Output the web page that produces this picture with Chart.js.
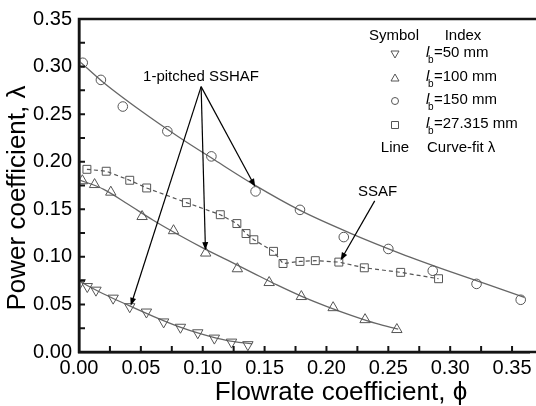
<!DOCTYPE html>
<html>
<head>
<meta charset="utf-8">
<script src="https://cdn.jsdelivr.net/npm/chart.js@4.4.1/dist/chart.umd.min.js"></script>
<style>
  html, body { margin: 0; padding: 0; background: #fff; }
</style>
</head>
<body>
<canvas id="myChart" width="536" height="406"></canvas>
<script>
// measured points (l_b = 50, 100, 150, 27.315 mm)
const phi50 = [0.001, 0.0067, 0.0137, 0.0276, 0.041, 0.0545, 0.0684, 0.082, 0.096, 0.1094, 0.1233, 0.1365];
const lam50 = [0.073, 0.0688, 0.065, 0.0566, 0.0476, 0.042, 0.0316, 0.026, 0.0202, 0.0146, 0.0104, 0.0077];
const phi100 = [0.0027, 0.0126, 0.0257, 0.051, 0.0764, 0.1024, 0.128, 0.1537, 0.1797, 0.2054, 0.2312, 0.2569];
const lam100 = [0.18, 0.176, 0.168, 0.1424, 0.1275, 0.104, 0.0875, 0.073, 0.0583, 0.0466, 0.034, 0.0236];
const phi150 = [0.003, 0.0177, 0.0354, 0.0714, 0.107, 0.1427, 0.1786, 0.214, 0.25, 0.2859, 0.3213, 0.357];
const lam150 = [0.304, 0.286, 0.258, 0.232, 0.2056, 0.1688, 0.1494, 0.1208, 0.1083, 0.0854, 0.0716, 0.0549];
const phiSsaf = [0.0064, 0.022, 0.041, 0.0547, 0.0868, 0.1142, 0.1276, 0.135, 0.1413, 0.1572, 0.1649, 0.1786, 0.191, 0.21, 0.2306, 0.26, 0.2906];
const lamSsaf = [0.192, 0.19, 0.1805, 0.1724, 0.157, 0.1443, 0.135, 0.1245, 0.118, 0.1058, 0.093, 0.0952, 0.096, 0.0945, 0.0885, 0.0837, 0.077];

// curve-fit lines
const fitPhi50 = [0, 0.02, 0.04, 0.06, 0.08, 0.10, 0.12, 0.14];
const fitLam50 = [0.0745, 0.061, 0.049, 0.0375, 0.027, 0.0185, 0.012, 0.0085];
const fitPhi100 = [0, 0.02, 0.04, 0.06, 0.08, 0.10, 0.12, 0.14, 0.16, 0.18, 0.20, 0.22, 0.24, 0.258];
const fitLam100 = [0.181, 0.171, 0.155, 0.1385, 0.1235, 0.1095, 0.0965, 0.0835, 0.0705, 0.0585, 0.048, 0.0385, 0.030, 0.024];
const fitPhi150 = [0, 0.02, 0.05, 0.08, 0.11, 0.14, 0.18, 0.22, 0.26, 0.30, 0.33, 0.36];
const fitLam150 = [0.306, 0.283, 0.2535, 0.2265, 0.2015, 0.177, 0.148, 0.1245, 0.1035, 0.0845, 0.071, 0.0575];

const xTicks = [0, 0.05, 0.10, 0.15, 0.20, 0.25, 0.30, 0.35];
const yTicks = [0, 0.05, 0.10, 0.15, 0.20, 0.25, 0.30, 0.35];

const legendIndex = ['=50 mm', '=100 mm', '=150 mm', '=27.315 mm'];
const legendShapes = ['down', 'up', 'circle', 'square'];

const FONT = '"Liberation Sans", Arial, sans-serif';
const GREY = '#555';
const AXIS = '#141414';

function pts(xs, ys) {
    return xs.map((v, i) => ({x: v, y: ys[i]}));
}

function markers(xs, ys, style, r, rot) {
    return {
        data: pts(xs, ys),
        showLine: false,
        pointStyle: style,
        pointRadius: r,
        rotation: rot || 0,
        borderColor: GREY,
        backgroundColor: 'rgba(0,0,0,0)',
        pointBorderWidth: 1,
    };
}

function fitLine(xs, ys) {
    return {
        data: pts(xs, ys),
        showLine: true,
        pointRadius: 0,
        borderColor: '#666',
        borderWidth: 1.3,
        cubicInterpolationMode: 'monotone',
    };
}

// axes frame + inward ticks
function drawFrame(chart) {
    const c = chart.ctx;
    const sx = chart.scales.x, sy = chart.scales.y;
    const L = sx.getPixelForValue(0), B = sy.getPixelForValue(0), T = sy.getPixelForValue(0.35);
    c.save();
    c.setTransform(1, 0, 0, 1, 0, 0);
    c.globalAlpha = 1;
    c.globalCompositeOperation = 'source-over';
    c.setLineDash([]);
    c.strokeStyle = AXIS;
    c.lineWidth = 2.5;
    c.beginPath();
    c.moveTo(540, T);
    c.lineTo(L, T);
    c.lineTo(L, B);
    c.lineTo(540, B);
    c.stroke();
    c.lineWidth = 2;
    c.beginPath();
    for (let k = 1; k <= 14; k++) {
        const v = k * 0.025;
        c.moveTo(sx.getPixelForValue(v), B);
        c.lineTo(sx.getPixelForValue(v), B - 6);
        c.moveTo(L, sy.getPixelForValue(v));
        c.lineTo(L + 6, sy.getPixelForValue(v));
    }
    c.stroke();
    c.restore();
}

const overlay = {
    id: 'overlay',
    afterDraw(chart) {
        const c = chart.ctx;
        const sx = chart.scales.x, sy = chart.scales.y;
        const px = v => sx.getPixelForValue(v);
        const py = v => sy.getPixelForValue(v);
        c.save();
        c.fillStyle = '#000';

        // axis titles
        c.font = '26px ' + FONT;
        c.textAlign = 'center';
        c.textBaseline = 'alphabetic';
        c.fillText('Flowrate coefficient, \u03D5', 341, 400);
        c.save();
        c.translate(25, 198);
        c.rotate(-Math.PI / 2);
        c.fillText('Power coefficient, \u03BB', 0, 0);
        c.restore();

        // legend block
        c.font = '15px ' + FONT;
        c.textBaseline = 'middle';
        c.fillText('Symbol', 394, 36);
        c.fillText('Index', 463, 36);
        const rowY = [54, 78, 101, 125];
        legendShapes.forEach((s, i) => {
            const yy = rowY[i];
            c.strokeStyle = GREY;
            c.lineWidth = 1;
            c.beginPath();
            if (s === 'down') {
                c.moveTo(391, yy - 3); c.lineTo(399, yy - 3); c.lineTo(395, yy + 4); c.closePath();
            } else if (s === 'up') {
                c.moveTo(391, yy + 3); c.lineTo(399, yy + 3); c.lineTo(395, yy - 4); c.closePath();
            } else if (s === 'circle') {
                c.arc(395, yy, 3.5, 0, Math.PI * 2);
            } else {
                c.rect(391.5, yy - 3.5, 7, 7);
            }
            c.stroke();
            c.textAlign = 'left';
            c.font = 'italic 15px ' + FONT;
            c.fillText('l', 426, yy - 1);
            c.font = '10px ' + FONT;
            c.fillText('b', 428, yy + 6);
            c.font = '15px ' + FONT;
            c.fillText(legendIndex[i], 434, yy - 1);
        });
        c.textAlign = 'center';
        c.fillText('Line', 395, 148);
        c.textAlign = 'left';
        c.fillText('Curve-fit \u03BB', 427, 148);

        // annotations with arrows
        function arrow(x1, y1, x2, y2) {
            const X1 = px(x1), Y1 = py(y1), X2 = px(x2), Y2 = py(y2);
            const ang = Math.atan2(Y2 - Y1, X2 - X1);
            c.strokeStyle = '#000';
            c.fillStyle = '#000';
            c.lineWidth = 1.2;
            c.beginPath();
            c.moveTo(X1, Y1);
            c.lineTo(X2 - 6 * Math.cos(ang), Y2 - 6 * Math.sin(ang));
            c.stroke();
            c.beginPath();
            c.moveTo(X2, Y2);
            c.lineTo(X2 - 8 * Math.cos(ang) + 3 * Math.sin(ang), Y2 - 8 * Math.sin(ang) - 3 * Math.cos(ang));
            c.lineTo(X2 - 8 * Math.cos(ang) - 3 * Math.sin(ang), Y2 - 8 * Math.sin(ang) + 3 * Math.cos(ang));
            c.closePath();
            c.fill();
        }
        c.fillStyle = '#000';
        c.font = '15px ' + FONT;
        c.textAlign = 'center';
        c.textBaseline = 'middle';
        c.fillText('1-pitched SSHAF', px(0.0986), py(0.2893));
        c.fillText('SSAF', px(0.2414), py(0.1684));
        arrow(0.0987, 0.2789, 0.0418, 0.0486);
        arrow(0.0987, 0.2789, 0.1022, 0.1070);
        arrow(0.0987, 0.2789, 0.1424, 0.1736);
        arrow(0.239, 0.1588, 0.2114, 0.0963);
        c.restore();

        drawFrame(chart);
    }
};

const ctx = document.getElementById('myChart');
new Chart(ctx, {
    type: 'scatter',
    data: {
        datasets: [
            markers(phi50, lam50, 'triangle', 6, 180),
            markers(phi100, lam100, 'triangle', 6, 0),
            markers(phi150, lam150, 'circle', 4.8, 0),
            Object.assign(markers(phiSsaf, lamSsaf, 'rect', 5.6, 0), {
                showLine: true,
                borderDash: [4, 3],
                borderWidth: 1.2,
            }),
            fitLine(fitPhi50, fitLam50),
            fitLine(fitPhi100, fitLam100),
            fitLine(fitPhi150, fitLam150),
        ]
    },
    options: {
        responsive: false,
        animation: false,
        devicePixelRatio: 1,
        layout: { padding: { top: 13, right: 0, left: 0, bottom: 0 } },
        plugins: { legend: { display: false }, tooltip: { enabled: false } },
        scales: {
            x: {
                type: 'linear',
                min: 0,
                max: 0.3637,
                afterBuildTicks: s => { s.ticks = xTicks.map(v => ({value: v})); },
                afterFit: s => { s.height = 54; },
                grid: { display: false, drawTicks: false },
                border: { display: true, color: AXIS, width: 2.5 },
                ticks: {
                    padding: 4,
                    color: '#000',
                    font: { family: FONT, size: 20 },
                    callback: v => v.toFixed(2),
                    maxRotation: 0,
                    autoSkip: false,
                }
            },
            y: {
                type: 'linear',
                min: 0,
                max: 0.35,
                afterBuildTicks: s => { s.ticks = yTicks.map(v => ({value: v})); },
                afterFit: s => { s.width = 79; },
                grid: { display: false, drawTicks: false },
                border: { display: true, color: AXIS, width: 2.5 },
                ticks: {
                    padding: 7,
                    color: '#000',
                    font: { family: FONT, size: 20 },
                    callback: v => v.toFixed(2),
                    autoSkip: false,
                }
            }
        }
    },
    plugins: [overlay]
});
</script>
</body>
</html>
